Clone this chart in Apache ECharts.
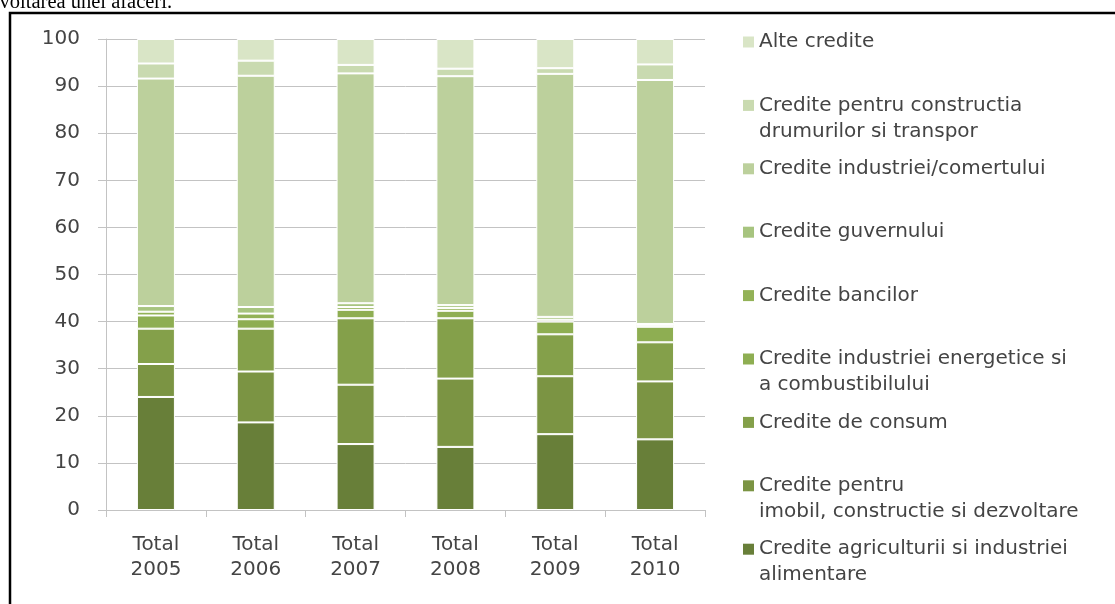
<!DOCTYPE html>
<html>
<head>
<meta charset="utf-8">
<script src="https://cdn.jsdelivr.net/npm/echarts@6/dist/echarts.min.js"></script>
<style>
  html, body { margin: 0; padding: 0; background: #ffffff; }
  #main { width: 1115px; height: 604px; }
</style>
</head>
<body>
<div id="main"></div>
<script>
// categorii pe axa X
var years = ['Total\n2005', 'Total\n2006', 'Total\n2007', 'Total\n2008', 'Total\n2009', 'Total\n2010'];
var yTicks = [0, 10, 20, 30, 40, 50, 60, 70, 80, 90, 100];

// procente pe tipuri de credite (de jos in sus)
var agricultura = [24.0, 18.6, 14.0, 13.4, 16.1, 15.0];
var imobil = [7.0, 10.8, 12.6, 14.5, 12.3, 12.3];
var consum = [7.5, 9.1, 14.1, 12.8, 8.9, 8.3];
var energetice = [2.8, 2.0, 1.8, 1.6, 2.7, 3.3];
var bancilor = [0.8, 1.2, 0.6, 0.6, 0.4, 0.3];
var guvernului = [1.2, 1.4, 0.8, 0.6, 0.6, 0.3];
var industriei = [48.3, 49.1, 48.8, 48.6, 51.6, 51.8];
var drumuri = [3.2, 3.2, 1.8, 1.6, 1.2, 3.3];
var alte = [5.2, 4.6, 5.5, 6.3, 6.2, 5.4];

var seriesNames = [
  'Credite agriculturii si industriei\nalimentare',
  'Credite pentru\nimobil, constructie si dezvoltare',
  'Credite de consum',
  'Credite industriei energetice si\na combustibilului',
  'Credite bancilor',
  'Credite guvernului',
  'Credite industriei/comertului',
  'Credite pentru constructia\ndrumurilor si transpor',
  'Alte credite'
];
var seriesData = [agricultura, imobil, consum, energetice, bancilor, guvernului, industriei, drumuri, alte];
var seriesColors = ['#687f39', '#7b9443', '#84a04a', '#8eae52', '#93b257', '#a7c47f', '#bcd09c', '#c9dab0', '#d9e5c6'];

var FONT = '"DejaVu Sans", sans-serif';
var TEXT_COLOR = '#444444';
var GRID_COLOR = '#c3c3c3';

var chart = echarts.init(document.getElementById('main'), null, { renderer: 'canvas' });

var series = seriesNames.map(function (name, i) {
  return {
    name: name,
    type: 'bar',
    stack: 'total',
    barWidth: 38,
    data: seriesData[i],
    itemStyle: {
      color: seriesColors[i],
      borderColor: '#ffffff',
      borderWidth: 1
    }
  };
});

// cate o legenda pentru fiecare rand, ca in original (de sus in jos)
var legends = [];
for (var k = seriesNames.length - 1; k >= 0; k--) {
  var row = seriesNames.length - 1 - k;
  var twoLines = seriesNames[k].indexOf('\n') >= 0;
  var lineCenter = 42 + row * 63.4;
  legends.push({
    data: [seriesNames[k]],
    orient: 'vertical',
    left: 743,
    top: twoLines ? lineCenter - 39 : lineCenter - 13,
    padding: 0,
    itemWidth: 11,
    itemHeight: 11,
    icon: 'rect',
    selectedMode: false,
    itemStyle: { borderWidth: 0 },
    // o linie goala deasupra ca patratelul sa stea la primul rand
    formatter: function (name) {
      return name.indexOf('\n') >= 0 ? '\n' + name : name;
    },
    textStyle: {
      fontFamily: FONT,
      fontSize: 20,
      color: TEXT_COLOR,
      lineHeight: 26
    }
  });
}

var option = {
  backgroundColor: '#ffffff',
  animation: false,
  grid: {
    left: 106,
    right: 410,
    top: 39,
    bottom: 94
  },
  legend: legends,
  xAxis: {
    type: 'category',
    data: years,
    axisLine: { lineStyle: { color: GRID_COLOR, width: 1 } },
    axisTick: { show: true, length: 7, lineStyle: { color: GRID_COLOR } },
    axisLabel: {
      fontFamily: FONT,
      fontSize: 20,
      color: TEXT_COLOR,
      lineHeight: 25,
      margin: 22
    }
  },
  yAxis: {
    type: 'value',
    min: yTicks[0],
    max: yTicks[yTicks.length - 1],
    interval: 10,
    axisLine: { show: true, lineStyle: { color: GRID_COLOR, width: 1 } },
    axisTick: { show: true, length: 8, lineStyle: { color: GRID_COLOR } },
    splitLine: { lineStyle: { color: GRID_COLOR, width: 1 } },
    axisLabel: {
      fontFamily: FONT,
      fontSize: 20,
      color: TEXT_COLOR,
      margin: 26
    }
  },
  graphic: [
    // rama neagra a figurii
    {
      type: 'rect',
      shape: { x: 10, y: 13, width: 1200, height: 700 },
      style: { fill: 'none', stroke: '#000000', lineWidth: 2.5 },
      silent: true
    },
    // textul de deasupra, taiat sus
    {
      type: 'text',
      style: {
        text: 'dezvoltarea unei afaceri.',
        x: 172,
        y: 13,
        textAlign: 'right',
        textVerticalAlign: 'bottom',
        fontFamily: '"Liberation Serif", serif',
        fontSize: 20.5,
        fill: '#000000'
      },
      silent: true
    }
  ],
  series: series
};

chart.setOption(option);
</script>
</body>
</html>
